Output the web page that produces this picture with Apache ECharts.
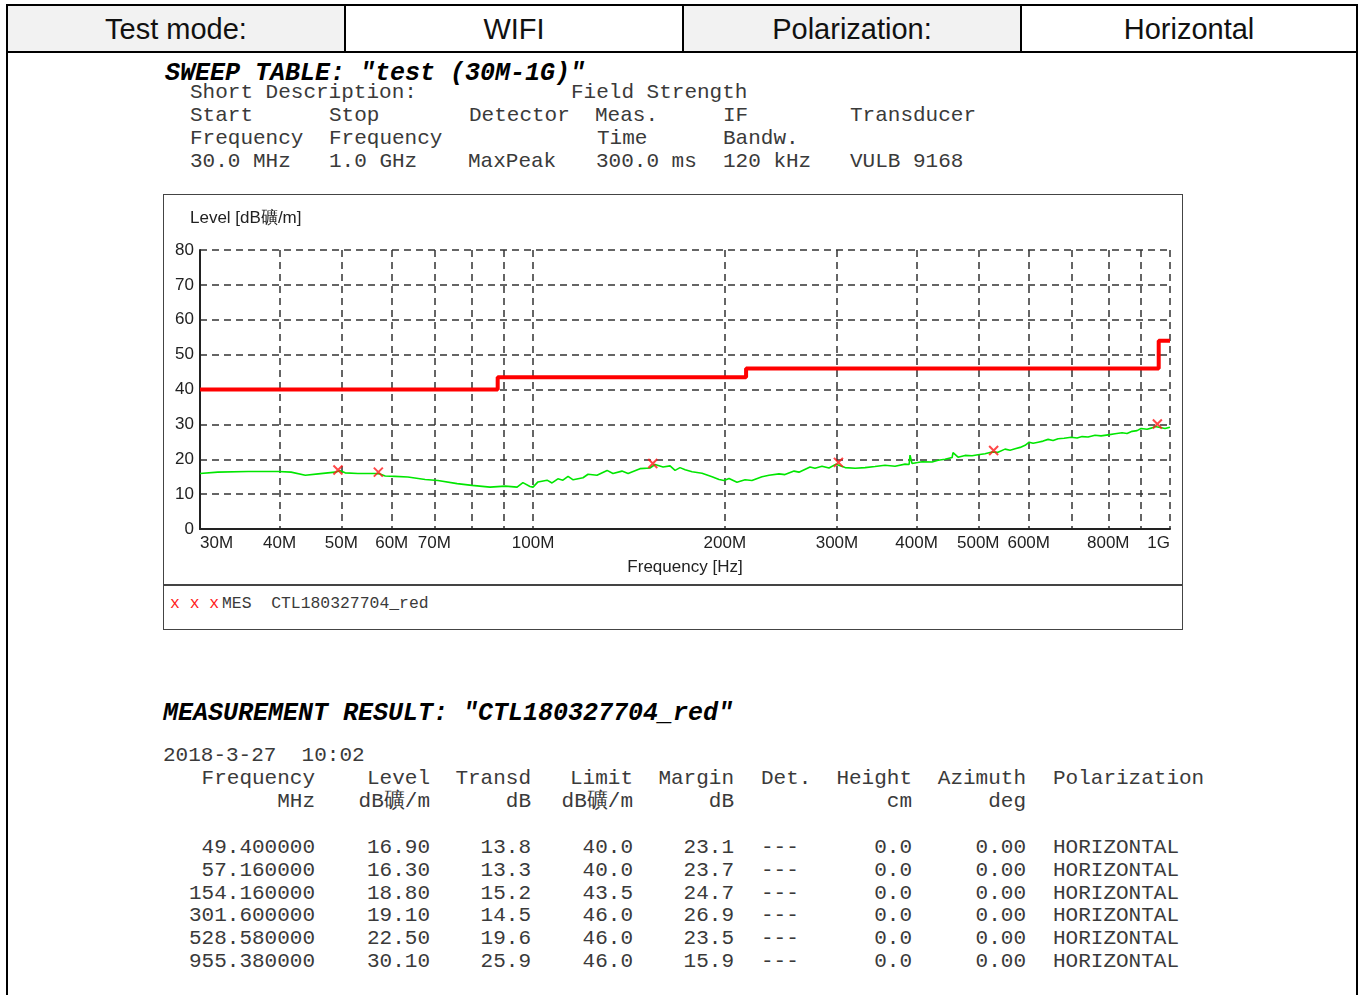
<!DOCTYPE html>
<html>
<head>
<meta charset="utf-8">
<script src="https://cdn.jsdelivr.net/npm/echarts@6.0.0/dist/echarts.min.js"></script>
<style>
  body{margin:0;width:1362px;height:995px;position:relative;background:#fff;overflow:hidden;}
  .cell{position:absolute;top:4px;height:49px;box-sizing:border-box;border:2px solid #000;
        font:29px "Liberation Sans",Arial,sans-serif;color:#111;text-align:center;line-height:47px;}
  .gray{background:#f2f2f2;}
  .vline{position:absolute;top:51px;width:2px;height:944px;background:#000;}
  .t{position:absolute;white-space:pre;font:21px "Liberation Mono","Courier New",monospace;color:#3a3a3a;line-height:24px;}
  .ttl{font:italic bold 25px "Liberation Mono","Courier New",monospace;color:#000;line-height:28px;}
  #frame{position:absolute;left:163px;top:194px;width:1020px;height:436px;box-sizing:border-box;border:1.5px solid #444;}
  #sep{position:absolute;left:163px;top:584px;width:1020px;height:1.5px;background:#444;}
  #plot{position:absolute;left:164px;top:195px;width:1018px;height:389px;}
  .lg{position:absolute;white-space:pre;font:16.4px "Liberation Mono","Courier New",monospace;color:#3a3a3a;line-height:18px;}
</style>
</head>
<body>
<div class="cell gray" style="left:6px;width:340px;">Test mode:</div>
<div class="cell" style="left:344px;width:340px;">WIFI</div>
<div class="cell gray" style="left:682px;width:340px;">Polarization:</div>
<div class="cell" style="left:1020px;width:338px;">Horizontal</div>
<div class="vline" style="left:6px;"></div>
<div class="vline" style="left:1356px;"></div>

<div id="frame"></div>
<div id="sep"></div>
<div id="plot"></div>
<div class="lg" style="left:170px;top:595px;color:#ff1a1a;">x x x</div>
<div class="lg" style="left:222px;top:595px;">MES  CTL180327704_red</div>

<script>
var traceMHz = [30, 32.0, 35.7, 39.8, 41.7, 43.9, 46.0, 48.9, 49.8, 50.7, 53.1, 56.5, 57.5, 58.6, 60.7, 63.6, 67.7, 70.9,
  76.0, 80.2, 85.6, 90.4, 94.4, 96.4, 98.9, 100.0, 101.8, 105.2, 107.1, 109.4, 111.4, 113.5, 115.6, 119.8, 122.0,
  126.0, 130.7, 133.5, 137.9, 141.0, 147.2, 152.6, 155.4, 160.0, 164.1, 167.1, 170.1, 173.3, 177.7, 184.2, 191.0,
  195.9, 199.5, 203.1, 209.0, 215.2, 220.6, 228.8, 234.7, 243.3, 248.6, 256.9, 261.5, 272.2, 277.1, 284.2, 291.5,
  299.0, 309.0, 320.4, 332.1, 344.2, 356.9, 370.1, 383.8, 389.4, 390.7, 393.5, 408.1, 423.1, 432.4, 443.5, 454.9,
  456.4, 464.8, 476.6, 488.9, 499.6, 512.4, 525.5, 537.1, 550.8, 560.9, 571.2, 581.7, 592.3, 601.0, 609.7, 620.8,
  632.1, 643.6, 655.3, 667.3, 681.9, 699.4, 714.7, 727.7, 743.6, 762.7, 779.4, 799.5, 819.9, 840.9, 856.3, 871.9,
  887.8, 900.7, 920.4, 937.2, 947.4, 964.8, 982.4, 1000];
var traceLevel = [15.9, 16.3, 16.5, 16.5, 16.3, 15.4, 15.8, 16.3, 16.7, 16.1, 15.9, 15.9, 15.8, 15.2, 15.1, 14.9, 14.2, 13.9,
  13.0, 12.5, 12.0, 12.3, 12.0, 13.3, 12.2, 12.0, 13.5, 14.0, 13.2, 14.4, 14.0, 15.1, 14.1, 14.7, 15.7,
  15.4, 16.8, 15.9, 16.6, 15.9, 17.3, 17.5, 18.5, 17.8, 18.1, 16.8, 17.6, 17.0, 16.4, 16.0, 15.0,
  14.2, 13.9, 14.5, 13.4, 14.1, 13.9, 15.0, 15.4, 15.8, 15.6, 16.6, 16.3, 17.8, 17.4, 18.0, 17.5,
  18.6, 17.6, 17.4, 17.6, 17.9, 18.3, 18.0, 18.6, 18.5, 21.2, 18.8, 19.3, 19.2, 19.7, 20.0, 20.5,
  21.9, 20.6, 21.1, 21.0, 21.3, 21.6, 22.1, 22.0, 22.9, 22.6, 23.0, 23.4, 24.0, 24.9, 24.6, 24.9,
  25.2, 25.7, 25.4, 25.9, 26.0, 26.3, 26.1, 26.5, 26.4, 26.9, 26.7, 27.0, 27.3, 27.6, 27.4, 28.0,
  28.2, 28.8, 28.6, 29.0, 29.4, 29.1, 28.8, 29.2];

// limit line (steps)
var limitMHz = [30, 88, 88, 216, 216, 960, 960, 1000];
var limitLevel = [40, 40, 43.5, 43.5, 46, 46, 54, 54];

// measurement result
var measMHz = [49.4, 57.16, 154.16, 301.6, 528.58, 955.38];
var measLevel = [16.90, 16.30, 18.80, 19.10, 22.50, 30.10];
var measTransd = [13.8, 13.3, 15.2, 14.5, 19.6, 25.9];
var measLimit = [40.0, 40.0, 43.5, 46.0, 46.0, 46.0];
var measMargin = [23.1, 23.7, 24.7, 26.9, 23.5, 15.9];

var gridMHz = [40, 50, 60, 70, 80, 90, 100, 200, 300, 400, 500, 600, 700, 800, 900, 1000];
var labelMHz = [30, 40, 50, 60, 70, 100, 200, 300, 400, 500, 600, 800, 1000];

function put(text, x, y, cls, right) {
  var d = document.createElement('div');
  d.className = 't' + (cls ? ' ' + cls : '');
  d.textContent = text;
  if (right) d.style.right = (1362 - x) + 'px'; else d.style.left = x + 'px';
  d.style.top = (y - (cls == 'ttl' ? 11 : 10)) + 'px';
  document.body.appendChild(d);
}

// sweep table text
put('SWEEP TABLE: "test (30M-1G)"', 165, 71, 'ttl');
put('Short Description:', 190, 91); put('Field Strength', 571, 91);
put('Start', 190, 114); put('Stop', 329, 114); put('Detector', 469, 114);
put('Meas.', 595, 114); put('IF', 723, 114); put('Transducer', 850, 114);
put('Frequency', 190, 137); put('Frequency', 329, 137); put('Time', 597, 137); put('Bandw.', 723, 137);
put('30.0 MHz', 190, 160); put('1.0 GHz', 329, 160); put('MaxPeak', 468, 160);
put('300.0 ms', 596, 160); put('120 kHz', 723, 160); put('VULB 9168', 850, 160);

// measurement result text
put('MEASUREMENT RESULT: "CTL180327704_red"', 163, 711, 'ttl');
put('2018-3-27  10:02', 163, 754);
put('Frequency', 315, 777, '', true); put('Level', 430, 777, '', true); put('Transd', 531, 777, '', true);
put('Limit', 633, 777, '', true); put('Margin', 734, 777, '', true); put('Det.', 761, 777);
put('Height', 912, 777, '', true); put('Azimuth', 1026, 777, '', true); put('Polarization', 1053, 777);
put('MHz', 315, 800, '', true); put('dB礦/m', 430, 800, '', true); put('dB', 531, 800, '', true);
put('dB礦/m', 633, 800, '', true); put('dB', 734, 800, '', true);
put('cm', 912, 800, '', true); put('deg', 1026, 800, '', true);
for (var i = 0; i < measMHz.length; i++) {
  var y = 846 + i * 22.8;
  put(measMHz[i].toFixed(6), 315, y, '', true);
  put(measLevel[i].toFixed(2), 430, y, '', true);
  put(measTransd[i].toFixed(1), 531, y, '', true);
  put(measLimit[i].toFixed(1), 633, y, '', true);
  put(measMargin[i].toFixed(1), 734, y, '', true);
  put('---', 761, y);
  put('0.0', 912, y, '', true);
  put('0.00', 1026, y, '', true);
  put('HORIZONTAL', 1053, y);
}

var trace = traceMHz.map(function (f, i) { return [f, traceLevel[i]]; });
var limit = limitMHz.map(function (f, i) { return [f, limitLevel[i]]; });
var marks = measMHz.map(function (f, i) { return [f, measLevel[i]]; });

var dash = { type: [7, 5], color: '#333', width: 1.5 };
var myChart = echarts.init(document.getElementById('plot'));
myChart.setOption({
  animation: false,
  grid: { left: 36, top: 55, width: 970, height: 279, containLabel: false, outerBoundsMode: 'none' },
  graphic: [{
    type: 'text', left: 26, top: 15,
    style: { text: 'Level [dB礦/m]', font: '17px "Liberation Sans", Arial', fill: '#222' }
  }],
  xAxis: {
    type: 'log', logBase: 10, min: 30, max: 1000,
    name: 'Frequency [Hz]', nameLocation: 'middle', nameGap: 30,
    nameTextStyle: { fontSize: 17, color: '#222', fontFamily: 'Liberation Sans' },
    axisLine: { lineStyle: { color: '#222', width: 2 } },
    axisTick: { show: false, customValues: gridMHz },
    axisLabel: {
      customValues: labelMHz, margin: 6, fontSize: 17, color: '#222', fontFamily: 'Liberation Sans',
      alignMinLabel: 'left', alignMaxLabel: 'right',
      formatter: function (v) { return v >= 1000 ? '1G' : Math.round(v) + 'M'; }
    },
    splitLine: { show: true, lineStyle: dash },
    minorSplitLine: { show: false }
  },
  yAxis: {
    type: 'value', min: 0, max: 80, interval: 10,
    axisLine: { show: true, lineStyle: { color: '#222', width: 2 } },
    axisTick: { show: false },
    axisLabel: { margin: 6, fontSize: 17, color: '#222', fontFamily: 'Liberation Sans' },
    splitLine: { show: true, lineStyle: dash }
  },
  series: [
    { name: 'trace', type: 'line', data: trace, showSymbol: false, symbol: 'none',
      lineStyle: { color: '#00e600', width: 1.6 }, z: 2 },
    { name: 'limit', type: 'line', data: limit, showSymbol: false, symbol: 'none',
      lineStyle: { color: '#ff0000', width: 4 }, z: 3 },
    { name: 'MES', type: 'scatter', data: marks, symbol: 'path://M0,0L10,10M10,0L0,10', symbolSize: 9,
      itemStyle: { color: 'none', borderColor: '#ff1a1a', borderWidth: 2 }, z: 4 }
  ]
});
</script>
</body>
</html>
